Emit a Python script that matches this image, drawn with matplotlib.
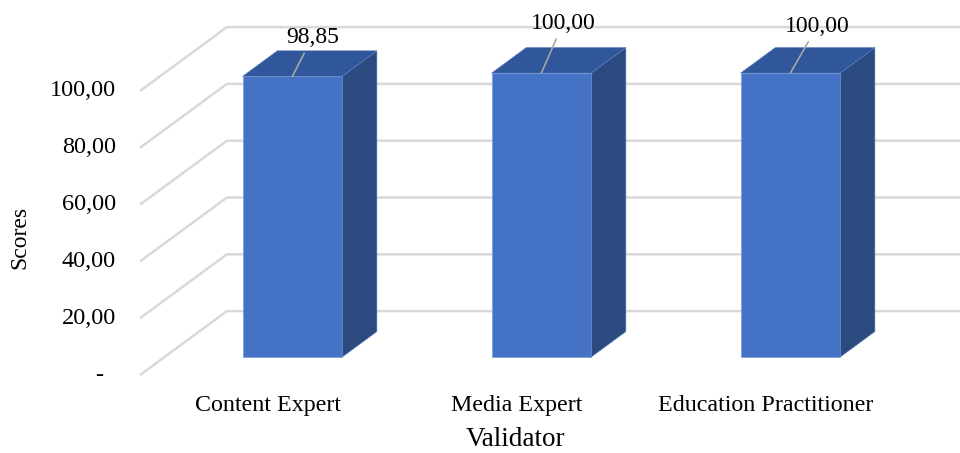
import matplotlib.pyplot as plt
from matplotlib.patches import Polygon

plt.rcParams['font.family'] = ['Liberation Serif', 'DejaVu Serif']

# data
categories = ["Content Expert", "Media Expert", "Education Practitioner"]
scores = [98.85, 100.00, 100.00]
value_labels = ["98,85", "100,00", "100,00"]
ticks = [0, 20, 40, 60, 80, 100]
tick_labels = ["-", "20,00", "40,00", "60,00", "80,00", "100,00"]

# label offsets (points) for the data labels
label_offsets = [(14.4, 28.0), (15.8, 36.0), (19.4, 33.8)]

# colours
front_c = "#4472C4"
top_c = "#30569B"
side_c = "#2A4A80"
grid_c = "#D9D9D9"

fig = plt.figure(figsize=(9.6, 4.53), dpi=100)
ax = fig.add_axes([0, 0, 1, 1])
ax.set_xlim(-1.0763, 2.7791)
ax.set_ylim(-27.46, 132.04)
ax.axis('off')

# oblique "3d" projection, depth vector in data units
ddx, ddy = 0.349, 22.5
wall_left = -0.514
right_end = 2.7791

# back wall gridlines
for t in ticks:
    ax.plot([wall_left, wall_left + ddx, right_end], [t, t + ddy, t + ddy],
            color=grid_c, lw=1.8, zorder=1, solid_capstyle='butt')

# tick labels on the front plane
for t, lab in zip(ticks, tick_labels):
    if lab == "-":
        ax.text(wall_left - 0.165, t, lab, ha='center', va='center', fontsize=17.5)
    else:
        ax.text(wall_left - 0.096, t, lab, ha='right', va='center', fontsize=17.5)

# bars
d0, dep, hw = 0.28, 0.4, 0.2
for i, (val, lab) in enumerate(zip(scores, value_labels)):
    x0 = i - hw + d0 * ddx
    x1 = i + hw + d0 * ddx
    y0 = d0 * ddy
    y1 = val + d0 * ddy
    bx, by = dep * ddx, dep * ddy
    side = Polygon([(x1, y0), (x1 + bx, y0 + by), (x1 + bx, y1 + by), (x1, y1)],
                   closed=True, fc=side_c, ec="#5B7FC0", lw=0.4, zorder=3)
    top = Polygon([(x0, y1), (x1, y1), (x1 + bx, y1 + by), (x0 + bx, y1 + by)],
                  closed=True, fc=top_c, ec="#5B7FC0", lw=0.4, zorder=3)
    front = Polygon([(x0, y0), (x1, y0), (x1, y1), (x0, y1)],
                    closed=True, fc=front_c, ec="#6F93D3", lw=0.4, zorder=4)
    for p in (side, top, front):
        ax.add_patch(p)
    ax.annotate(lab, xy=((x0 + x1) / 2, y1), xytext=label_offsets[i], textcoords='offset points',
                ha='center', va='center', fontsize=17, zorder=5,
                arrowprops=dict(arrowstyle='-', color='#A6A6A6', lw=1.2,
                                shrinkA=2, shrinkB=0))

# category labels
for i, c in enumerate(categories):
    ax.text(i, -10.7, c, ha='center', va='center', fontsize=17.3)

ax.text(0.992, -22.6, "Validator", ha='center', va='center', fontsize=19.5)
fig.text(20 / 960, 1 - 237 / 453, "Scores", rotation=90, ha='center', va='center', fontsize=17)

fig.savefig("out.png", dpi=100)
